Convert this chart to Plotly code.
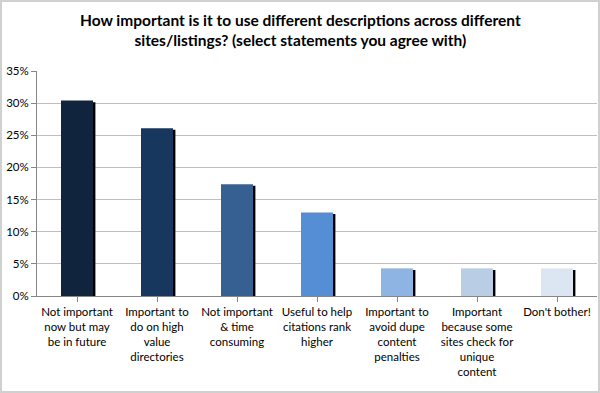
import plotly.graph_objects as go

categories = [
    "Not important<br>now but may<br>be in future",
    "Important to<br>do on high<br>value<br>directories",
    "Not important<br>& time<br>consuming",
    "Useful to help<br>citations rank<br>higher",
    "Important to<br>avoid dupe<br>content<br>penalties",
    "Important<br>because some<br>sites check for<br>unique<br>content",
    "Don't bother!",
]
values = [0.304, 0.261, 0.174, 0.130, 0.043, 0.043, 0.043]
colors = ["#10243E", "#17375E", "#376092", "#558ED5", "#8EB4E3", "#B9CDE5", "#DCE6F2"]
y_ticks = [0, 0.05, 0.10, 0.15, 0.20, 0.25, 0.30, 0.35]
title_text = ("<b>How important is it to use different descriptions across different<br>"
              "sites/listings? (select statements you agree with)</b>")

W, H = 600, 393
ml, mr, mt, mb = 37, 3, 71, 97
pw = W - ml - mr
ph = H - mt - mb

fig = go.Figure()
# drop shadow behind each bar
fig.add_trace(go.Bar(
    x=list(range(len(categories))), y=[v - 0.0025 for v in values],
    marker=dict(color="#000000", line=dict(width=0)),
    width=0.4, offset=-0.2 + 0.03, hoverinfo="skip", showlegend=False,
))
fig.add_trace(go.Bar(
    x=list(range(len(categories))), y=values,
    marker=dict(color=colors, line=dict(width=0)),
    width=0.4, offset=-0.2, showlegend=False,
))

fig.add_shape(type="rect", xref="paper", yref="paper",
              x0=-(ml - 1) / pw, x1=1 + (mr - 1) / pw,
              y0=-(mb - 1) / ph, y1=1 + (mt - 1) / ph,
              line=dict(color="#D0D0D0", width=2), layer="below")

fig.add_annotation(
    text=title_text, xref="paper", yref="paper",
    x=(W / 2 - ml) / pw, y=1 + (mt - 9) / ph, xanchor="center", yanchor="top",
    showarrow=False, align="center",
    font=dict(size=15.5, color="#000000"),
)

fig.update_layout(
    width=W, height=H,
    margin=dict(l=ml, r=mr, t=mt, b=mb, autoexpand=False),
    paper_bgcolor="white", plot_bgcolor="white",
    barmode="overlay",
    font=dict(family="Lato, Open Sans, sans-serif", size=11.5, color="#000000"),
    xaxis=dict(
        tickmode="array", tickvals=list(range(len(categories))), ticktext=categories,
        range=[-0.5, len(categories) - 0.5],
        showline=True, linecolor="#868686", linewidth=1,
        ticks="outside", tickson="boundaries", ticklen=5, tickcolor="#868686",
        showgrid=False, tickangle=0, automargin=False,
    ),
    yaxis=dict(
        range=[0, 0.35], tickvals=y_ticks, tickformat=".0%",
        showgrid=True, gridcolor="#BFBFBF", gridwidth=1,
        showline=True, linecolor="#868686", linewidth=1,
        ticks="outside", ticklen=5, tickcolor="#868686",
        zeroline=False, automargin=False,
    ),
)

fig.write_html("out.html", config={"displayModeBar": False},
               post_script="document.body.style.margin='0';")
